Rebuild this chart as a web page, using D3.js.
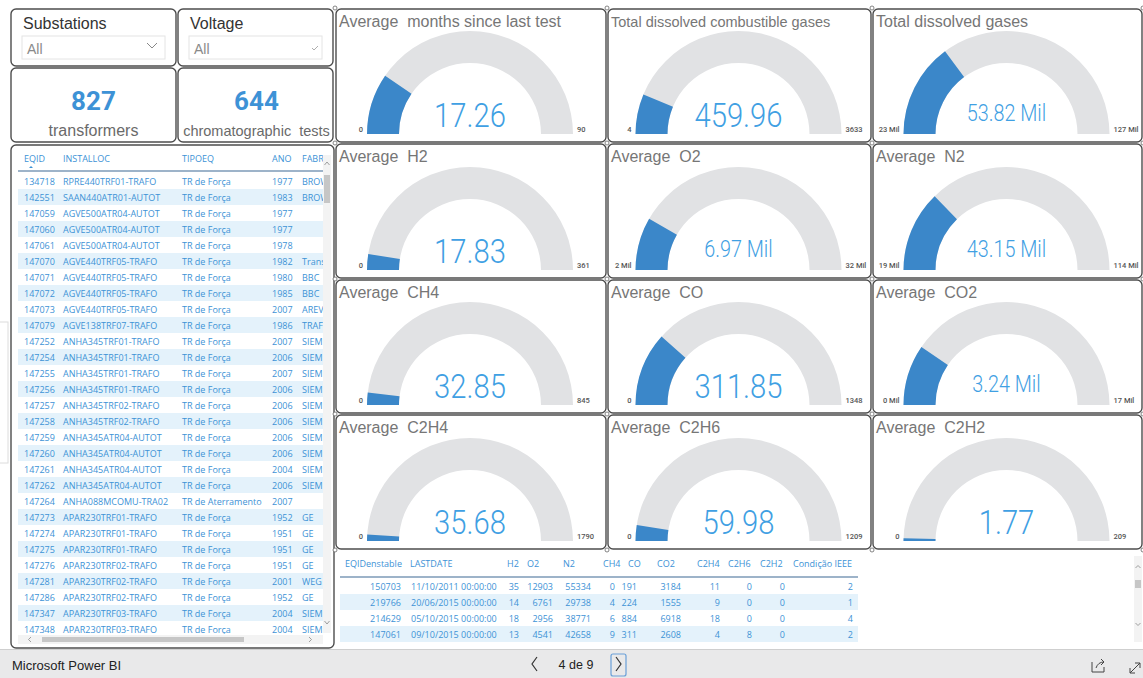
<!DOCTYPE html>
<html>
<head>
<meta charset="utf-8">
<script src="https://cdn.jsdelivr.net/npm/d3@7"></script>
<style>
  body { margin: 0; background: #fff; }
  svg { display: block; font-family: "Liberation Sans", Arial, sans-serif; }
</style>
</head>
<body>
<div id="chart"></div>
<script>
// ---- data ----
const gaugeTitles = ["Average  months since last test", "Total dissolved combustible gases", "Total dissolved gases",
  "Average  H2", "Average  O2", "Average  N2",
  "Average  CH4", "Average  CO", "Average  CO2",
  "Average  C2H4", "Average  C2H6", "Average  C2H2"];
const gaugeValues = [17.26, 459.96, 53820, 17.83, 6970, 43150, 32.85, 311.85, 3240, 35.68, 59.98, 1.77];
const gaugeMins = [0, 4, 23000, 0, 2000, 19000, 0, 0, 0, 0, 0, 0];
const gaugeMaxs = [90, 3633, 127000, 361, 32000, 114000, 845, 1348, 17000, 1790, 1209, 209];
const gaugeInMil = [false, false, true, false, true, true, false, false, true, false, false, false];

const kpiValues = [827, 644];
const kpiLabels = ["transformers", "chromatographic  tests"];
const slicerTitles = ["Substations", "Voltage"];

const eqHeaders = ["EQID", "INSTALLOC", "TIPOEQ", "ANO", "FABR"];
const eqId = [134718, 142551, 147059, 147060, 147061, 147070, 147071, 147072, 147073, 147079, 147252, 147254, 147255, 147256,
  147257, 147258, 147259, 147260, 147261, 147262, 147264, 147273, 147274, 147275, 147276, 147281, 147286, 147347, 147348];
const eqInstall = ["RPRE440TRF01-TRAFO", "SAAN440ATR01-AUTOT", "AGVE500ATR04-AUTOT", "AGVE500ATR04-AUTOT", "AGVE500ATR04-AUTOT",
  "AGVE440TRF05-TRAFO", "AGVE440TRF05-TRAFO", "AGVE440TRF05-TRAFO", "AGVE440TRF05-TRAFO", "AGVE138TRF07-TRAFO",
  "ANHA345TRF01-TRAFO", "ANHA345TRF01-TRAFO", "ANHA345TRF01-TRAFO", "ANHA345TRF01-TRAFO", "ANHA345TRF02-TRAFO",
  "ANHA345TRF02-TRAFO", "ANHA345ATR04-AUTOT", "ANHA345ATR04-AUTOT", "ANHA345ATR04-AUTOT", "ANHA345ATR04-AUTOT",
  "ANHA088MCOMU-TRA02", "APAR230TRF01-TRAFO", "APAR230TRF01-TRAFO", "APAR230TRF01-TRAFO", "APAR230TRF02-TRAFO",
  "APAR230TRF02-TRAFO", "APAR230TRF02-TRAFO", "APAR230TRF03-TRAFO", "APAR230TRF03-TRAFO"];
const eqTipo = ["TR de Força", "TR de Força", "TR de Força", "TR de Força", "TR de Força", "TR de Força", "TR de Força",
  "TR de Força", "TR de Força", "TR de Força", "TR de Força", "TR de Força", "TR de Força", "TR de Força", "TR de Força",
  "TR de Força", "TR de Força", "TR de Força", "TR de Força", "TR de Força", "TR de Aterramento", "TR de Força",
  "TR de Força", "TR de Força", "TR de Força", "TR de Força", "TR de Força", "TR de Força", "TR de Força"];
const eqAno = [1977, 1983, 1977, 1977, 1978, 1982, 1980, 1985, 2007, 1986, 2007, 2006, 2007, 2006, 2006, 2006, 2006, 2006,
  2004, 2006, 2007, 1952, 1951, 1951, 1951, 2001, 1952, 2004, 2004];
// FABR column is cut off by the table edge in the report, only the visible part is kept
const eqFabr = ["BROW", "BROW", "", "", "", "Trans", "BBC", "BBC", "AREV", "TRAF", "SIEM", "SIEM",
  "SIEM", "SIEM", "SIEM", "SIEM", "SIEM", "SIEM", "SIEM", "SIEM", "", "GE", "GE", "GE", "GE",
  "WEG", "GE", "SIEM", "SIEM"];

const testHeaders = ["EQIDenstable", "LASTDATE", "H2", "O2", "N2", "CH4", "CO", "CO2", "C2H4", "C2H6", "C2H2", "Condição IEEE"];
const testEqId = [150703, 219766, 214629, 147061];
const testDate = ["11/10/2011 00:00:00", "20/06/2015 00:00:00", "05/10/2015 00:00:00", "09/10/2015 00:00:00"];
const testH2 = [35, 14, 18, 13];
const testO2 = [12903, 6761, 2956, 4541];
const testN2 = [55334, 29738, 38771, 42658];
const testCH4 = [0, 4, 6, 9];
const testCO = [191, 224, 884, 311];
const testCO2 = [3184, 1555, 6918, 2608];
const testC2H4 = [11, 9, 18, 4];
const testC2H6 = [0, 0, 0, 8];
const testC2H2 = [0, 0, 0, 0];
const testIEEE = [2, 1, 4, 2];

const pageLabel = "4 de 9";

// ---- setup ----
const W = 1143, H = 678;
const svg = d3.select("#chart").append("svg").attr("width", W).attr("height", H);
const defs = svg.append("defs");

const BLUE_TXT = "#3d92d6";
const BORDER = "#4d4d4d";

function panel(x, y, w, h) {
  svg.append("rect").attr("x", x).attr("y", y).attr("width", w).attr("height", h)
    .attr("rx", 5).attr("fill", "#fff").attr("stroke", BORDER).attr("stroke-width", 1.4);
}

// faint object on far left
svg.append("rect").attr("x", -6).attr("y", 322).attr("width", 14).attr("height", 141)
  .attr("fill", "none").attr("stroke", "#dcdcdc");

// ---- slicers ----
const slicerX = [11, 178], slicerW = [165, 155];
slicerTitles.forEach((t, i) => {
  const x = slicerX[i], w = slicerW[i];
  panel(x, 9, w, 57);
  svg.append("text").attr("x", x + 12).attr("y", 29).text(t)
    .attr("font-size", 16).attr("fill", "#333");
  svg.append("rect").attr("x", x + 11).attr("y", 36).attr("width", w - 22).attr("height", 23)
    .attr("fill", "#fff").attr("stroke", "#e4e4e4");
  svg.append("text").attr("x", x + 16).attr("y", 54).text("All")
    .attr("font-size", 14).attr("fill", "#8a8a8a");
  if (i === 0) {
    svg.append("path").attr("d", `M${x + w - 29},${43} l5,5 l5,-5`)
      .attr("fill", "none").attr("stroke", "#888").attr("stroke-width", 1);
  } else {
    svg.append("path").attr("d", `M${x + w - 21},${48} l2,2 l4,-4`)
      .attr("fill", "none").attr("stroke", "#999").attr("stroke-width", 0.8);
  }
});

// ---- KPI cards ----
kpiValues.forEach((v, i) => {
  const x = slicerX[i], w = slicerW[i];
  panel(x, 68, w, 74);
  const cx = x + w / 2 + (i === 1 ? 1 : 0);
  svg.append("text").attr("x", cx).attr("y", 110).attr("text-anchor", "middle")
    .text(v).attr("font-family", "Roboto").attr("font-weight", 700)
    .attr("font-size", 26).attr("fill", BLUE_TXT);
  svg.append("text").attr("x", cx).attr("y", 136).attr("text-anchor", "middle")
    .style("white-space", "pre")
    .text(kpiLabels[i]).attr("font-size", i === 1 ? 14.5 : 16).attr("fill", "#6a6a6a");
});

// ---- left table ----
panel(11, 145, 323, 503);
defs.append("clipPath").attr("id", "eqClip").append("rect")
  .attr("x", 14).attr("y", 148).attr("width", 309).attr("height", 486);
const eqT = svg.append("g").attr("clip-path", "url(#eqClip)")
  .attr("font-family", "'Open Sans', 'Noto Sans', sans-serif").attr("font-size", 9);
const eqColX = [24, 63, 182, 272, 302];
const eqRowY = d3.scaleBand().domain(d3.range(eqId.length)).range([173, 173 + 16 * eqId.length]);

eqT.selectAll(".band").data(d3.range(eqId.length).filter(i => i % 2 === 1)).join("rect")
  .attr("x", 18).attr("y", i => eqRowY(i)).attr("width", 305).attr("height", eqRowY.bandwidth())
  .attr("fill", "#e4f2fb");
eqT.selectAll(".hdr").data(eqHeaders).join("text")
  .attr("x", (d, i) => eqColX[i]).attr("y", 162).text(d => d).attr("fill", BLUE_TXT);
eqT.append("line").attr("x1", 18).attr("x2", 323).attr("y1", 171).attr("y2", 171)
  .attr("stroke", "#9db3c9").attr("stroke-width", 2);
eqT.append("path").attr("d", "M29,168 l2,-2 l2,2 z").attr("fill", BLUE_TXT);

const eqCols = [eqId, eqInstall, eqTipo, eqAno, eqFabr];
eqCols.forEach((col, c) => {
  eqT.selectAll(".c" + c).data(col).join("text")
    .attr("x", eqColX[c]).attr("y", (d, i) => eqRowY(i) + 11.5)
    .text(d => d).attr("fill", BLUE_TXT);
});

// scrollbars
svg.append("rect").attr("x", 323).attr("y", 155).attr("width", 8).attr("height", 478).attr("fill", "#f3f3f3");
svg.append("rect").attr("x", 324).attr("y", 175).attr("width", 6).attr("height", 28).attr("fill", "#c6c6c6");
svg.append("path").attr("d", "M324.5,165 l2.5,-3 l2.5,3").attr("fill", "none").attr("stroke", "#888").attr("stroke-width", 0.8);
svg.append("path").attr("d", "M324.5,621 l2.5,3 l2.5,-3").attr("fill", "none").attr("stroke", "#888").attr("stroke-width", 0.8);
svg.append("rect").attr("x", 18).attr("y", 635).attr("width", 305).attr("height", 9).attr("fill", "#f3f3f3");
svg.append("rect").attr("x", 42).attr("y", 637).attr("width", 202).attr("height", 5).attr("fill", "#c6c6c6");
svg.append("path").attr("d", "M31,637 l-2.5,2.5 l2.5,2.5").attr("fill", "none").attr("stroke", "#888").attr("stroke-width", 0.8);
svg.append("path").attr("d", "M309,637 l2.5,2.5 l-2.5,2.5").attr("fill", "none").attr("stroke", "#888").attr("stroke-width", 0.8);

// ---- gauges ----
const colEdges = [335, 607, 872, 1143];
const rowEdges = [8, 143, 279, 414, 550];
const valFmt = d3.format(".2f");

gaugeTitles.forEach((title, i) => {
  const c = i % 3, r = Math.floor(i / 3);
  const x = colEdges[c] + 1, y = rowEdges[r] + 1;
  const w = colEdges[c + 1] - colEdges[c] - 2, h = rowEdges[r + 1] - rowEdges[r] - 2;
  panel(x, y, w, h);

  const g = svg.append("g");
  g.append("text").attr("x", x + 3).attr("y", y + 18).text(title)
    .style("white-space", "pre")
    .attr("font-size", i === 1 ? 14.5 : 16).attr("fill", "#767676");

  const cx = x + w / 2 - 1, cy = y + h - 8;
  const rOut = 103, rIn = 71;
  const angle = d3.scaleLinear().domain([gaugeMins[i], gaugeMaxs[i]])
    .range([-Math.PI / 2, Math.PI / 2]).clamp(true);
  const arc = d3.arc().innerRadius(rIn).outerRadius(rOut);
  const ga = g.append("g").attr("transform", `translate(${cx},${cy})`);
  ga.append("path").attr("d", arc({ startAngle: -Math.PI / 2, endAngle: Math.PI / 2 })).attr("fill", "#e1e2e4");
  ga.append("path").attr("d", arc({ startAngle: -Math.PI / 2, endAngle: angle(gaugeValues[i]) })).attr("fill", "#3b87c9");

  const mil = gaugeInMil[i];
  const label = mil ? valFmt(gaugeValues[i] / 1000) + " Mil" : valFmt(gaugeValues[i]);
  const endLbl = v => mil ? d3.format(".0f")(v / 1000) + " Mil" : d3.format("d")(v);

  ga.append("text").attr("transform", `translate(0,${mil ? -13 : -7}) scale(0.86,1)`)
    .attr("text-anchor", "middle").text(label)
    .attr("font-family", "Roboto").attr("font-weight", 300)
    .attr("font-size", mil ? 23 : 34).attr("fill", "#3fa0e3");
  ga.append("text").attr("x", -rOut - 4).attr("y", -2).attr("text-anchor", "end")
    .text(endLbl(gaugeMins[i])).attr("font-family", "Roboto").attr("font-weight", 500)
    .attr("font-size", 7.5).attr("fill", "#555");
  ga.append("text").attr("x", rOut + 4).attr("y", -2).attr("text-anchor", "start")
    .text(endLbl(gaugeMaxs[i])).attr("font-family", "Roboto").attr("font-weight", 500)
    .attr("font-size", 7.5).attr("fill", "#555");
});

// corner handles
colEdges.forEach(cxh => rowEdges.forEach(cyh => {
  svg.append("circle").attr("cx", cxh).attr("cy", cyh).attr("r", 2)
    .attr("fill", "#fff").attr("stroke", "#666").attr("stroke-width", 0.8);
}));

// ---- bottom test table ----
const tT = svg.append("g").attr("font-family", "'Open Sans', 'Noto Sans', sans-serif").attr("font-size", 9);
const testCols = [testEqId, testDate, testH2, testO2, testN2, testCH4, testCO, testCO2, testC2H4, testC2H6, testC2H2, testIEEE];
const hdrX = [345, 410, 507, 527, 563, 603, 628, 657, 697, 728, 760, 793];
const valX = [401, 411, 519, 553, 591, 615, 637, 681, 720, 752, 785, 853];
const valAnchor = testCols.map((_, i) => i === 1 ? "start" : "end");
const tRowY = d3.scaleBand().domain(d3.range(testEqId.length)).range([578, 578 + 16 * testEqId.length]);

tT.selectAll(".band").data(d3.range(testEqId.length).filter(i => i % 2 === 1)).join("rect")
  .attr("x", 340).attr("y", i => tRowY(i)).attr("width", 518).attr("height", tRowY.bandwidth())
  .attr("fill", "#e4f2fb");
tT.selectAll(".hdr").data(testHeaders).join("text")
  .attr("x", (d, i) => hdrX[i]).attr("y", 567).text(d => d).attr("fill", BLUE_TXT);
tT.append("line").attr("x1", 340).attr("x2", 858).attr("y1", 577).attr("y2", 577)
  .attr("stroke", "#9db3c9").attr("stroke-width", 2);
testCols.forEach((col, c) => {
  tT.selectAll(".t" + c).data(col).join("text")
    .attr("x", valX[c]).attr("y", (d, i) => tRowY(i) + 12)
    .attr("text-anchor", valAnchor[c]).text(d => d).attr("fill", BLUE_TXT);
});

// right empty panel scrollbar
svg.append("rect").attr("x", 1134).attr("y", 556).attr("width", 8).attr("height", 86).attr("fill", "#f3f3f3");
svg.append("rect").attr("x", 1135).attr("y", 580).attr("width", 6).attr("height", 8).attr("fill", "#c6c6c6");
svg.append("path").attr("d", "M1135.5,568 l2.5,-2.5 l2.5,2.5").attr("fill", "none").attr("stroke", "#888").attr("stroke-width", 0.8);
svg.append("path").attr("d", "M1135.5,623 l2.5,2.5 l2.5,-2.5").attr("fill", "none").attr("stroke", "#888").attr("stroke-width", 0.8);

// ---- footer ----
svg.append("rect").attr("x", 0).attr("y", 649).attr("width", W).attr("height", H - 649).attr("fill", "#e9e9ea");
svg.append("line").attr("x1", 0).attr("x2", W).attr("y1", 649.5).attr("y2", 649.5).attr("stroke", "#cfcfcf");
svg.append("text").attr("x", 12).attr("y", 670).text("Microsoft Power BI")
  .attr("font-size", 13).attr("fill", "#222");
svg.append("path").attr("d", "M537,657 l-5,7 l5,7").attr("fill", "none").attr("stroke", "#333").attr("stroke-width", 1.2);
svg.append("text").attr("x", 576).attr("y", 669).attr("text-anchor", "middle").text(pageLabel)
  .attr("font-size", 12.5).attr("fill", "#222");
svg.append("rect").attr("x", 611).attr("y", 654).attr("width", 15).attr("height", 22).attr("rx", 2)
  .attr("fill", "none").attr("stroke", "#6aa0d8").attr("stroke-width", 1.2);
svg.append("path").attr("d", "M616,657 l5,7 l-5,7").attr("fill", "none").attr("stroke", "#333").attr("stroke-width", 1.2);
// share icon
svg.append("path").attr("d", "M1092,662 v10 h12 v-5 M1096,668 q2,-6 8,-6 M1101,659 l3,3 l-3,3")
  .attr("fill", "none").attr("stroke", "#444").attr("stroke-width", 1);
// expand icon
svg.append("path").attr("d", "M1130,673 l10,-10 M1130,668 v5 h5 M1135,663 h5 v5")
  .attr("fill", "none").attr("stroke", "#444").attr("stroke-width", 1);
</script>
</body>
</html>
